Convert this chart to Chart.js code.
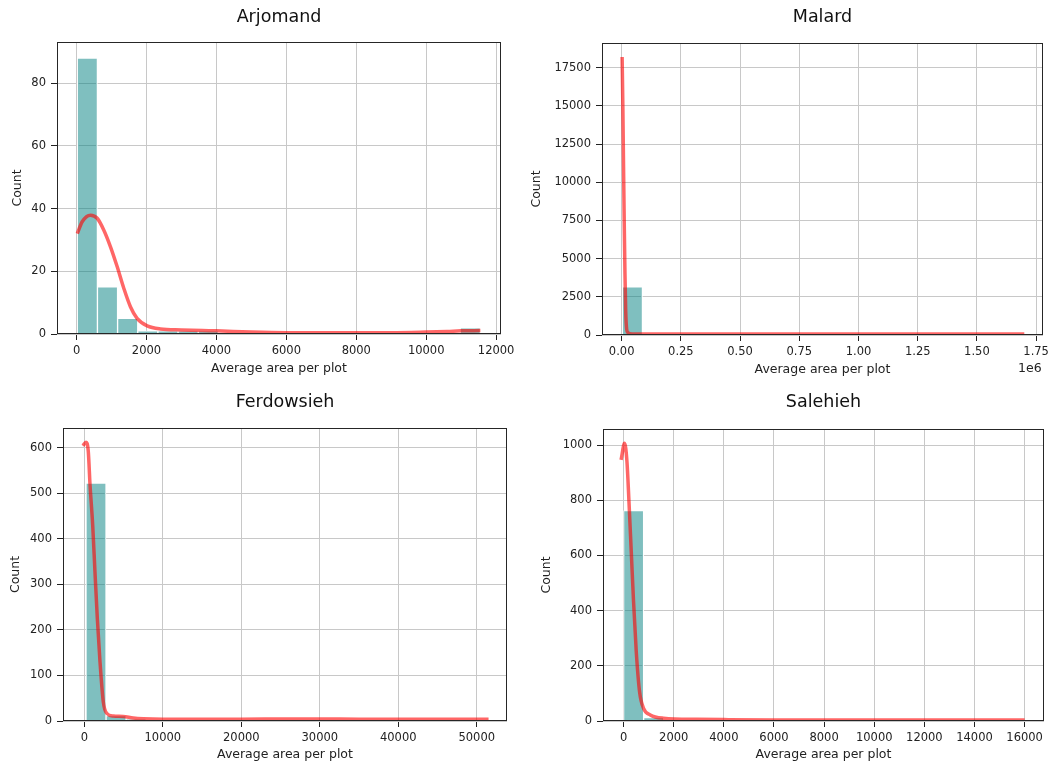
<!DOCTYPE html>
<html>
<head>
<meta charset="utf-8">
<script src="https://cdn.jsdelivr.net/npm/chart.js@4.4.1/dist/chart.umd.min.js"></script>
<style>
    body { margin: 0; background: #fff; }
    #wrap { position: relative; width: 1062px; height: 767px; overflow: hidden; background: #fff; }
    canvas { position: absolute; }
    #offsetText { position: absolute; left: 1018px; top: 360px; font: 12.5px 'DejaVu Sans'; color: #222; }
</style>
</head>
<body>
<div id="wrap">
    <canvas id="c1" width="531" height="385" style="left:0;top:0"></canvas>
    <canvas id="c2" width="542" height="385" style="left:520px;top:0"></canvas>
    <canvas id="c3" width="531" height="382" style="left:0;top:385px"></canvas>
    <canvas id="c4" width="542" height="382" style="left:520px;top:385px"></canvas>
    <div id="offsetText">1e6</div>
</div>
<script>
// Arjomand: 구간 시작/폭, 구간별 개수, KDE 곡선
const arjBinStart = 20, arjBinWidth = 576.5;
const arjCounts = [88, 15, 5, 1, 1, 1, 1, 0, 0, 0, 0, 0, 0, 0, 0, 0, 0, 0, 0, 2];
const arjKdeX = [20, 160, 400, 590, 780, 970, 1160, 1350, 1540, 1730, 2020, 2400, 3000, 3600, 4000, 5000, 6000, 7000, 8000, 9000, 10000, 10600, 11000, 11550];
const arjKdeY = [32, 35.8, 37.9, 36.9, 33.1, 27.8, 21.5, 14.6, 8.7, 5.0, 2.6, 1.6, 1.3, 1.1, 1.0, 0.6, 0.4, 0.4, 0.4, 0.4, 0.6, 0.8, 1.0, 1.1];
const arjXTicks = [0, 2000, 4000, 6000, 8000, 10000, 12000];
const arjYTicks = [0, 20, 40, 60, 80];

// Malard
const malBinStart = 3000, malBinWidth = 84850;
const malCounts = [3160, 3, 1, 0, 0, 0, 0, 0, 0, 0, 0, 0, 0, 0, 0, 0, 0, 0, 0, 1];
const malKdeX = [2000, 5000, 8000, 11000, 14000, 17000, 21000, 26000, 35000, 60000, 200000, 600000, 1000000, 1400000, 1700000];
const malKdeY = [18200, 15000, 11000, 7200, 4000, 1600, 400, 160, 90, 70, 60, 60, 60, 60, 60];
const malXTicks = [0, 250000, 500000, 750000, 1000000, 1250000, 1500000, 1750000];
const malYTicks = [0, 2500, 5000, 7500, 10000, 12500, 15000, 17500];

// Ferdowsieh
const ferBinStart = 216, ferBinWidth = 2556;
const ferCounts = [522, 12, 4, 1, 0, 0, 0, 0, 0, 1, 1, 0, 0, 0, 0, 0, 0, 0, 0, 1];
const ferKdeX = [-170, 220, 510, 730, 1070, 1360, 1660, 2000, 2420, 2850, 3700, 4950, 6240, 7520, 10000, 15000, 20000, 26000, 30000, 35000, 40000, 45000, 51500];
const ferKdeY = [604, 612, 591, 518, 430, 327, 225, 130, 42, 17, 11, 10, 6.6, 5, 4, 4, 4, 4.5, 4.5, 4, 4, 4, 4];
const ferXTicks = [0, 10000, 20000, 30000, 40000, 50000];
const ferYTicks = [0, 100, 200, 300, 400, 500, 600];

// Salehieh
const salBinStart = 0, salBinWidth = 800;
const salCounts = [762, 12, 3, 1, 1, 0, 0, 0, 0, 0, 0, 0, 0, 0, 0, 0, 0, 0, 0, 1];
const salKdeX = [-100, 40, 135, 215, 307, 398, 506, 638, 797, 1064, 1594, 2924, 4000, 6000, 8000, 10000, 12000, 14000, 16000];
const salKdeY = [946, 1006, 940, 795, 613, 432, 251, 106, 46, 22, 10, 6, 5, 4, 4, 4, 4, 4, 4];
const salXTicks = [0, 2000, 4000, 6000, 8000, 10000, 12000, 14000, 16000];
const salYTicks = [0, 200, 400, 600, 800, 1000];

Chart.defaults.font.family = "'DejaVu Sans', sans-serif";
Chart.defaults.color = '#222';

// 축 상자 테두리 (matplotlib spine)
const frameBox = {
    id: 'frameBox',
    afterDatasetsDraw(chart) {
        const a = chart.chartArea;
        const ctx = chart.ctx;
        ctx.save();
        ctx.strokeStyle = '#262626';
        ctx.lineWidth = 1;
        ctx.strokeRect(a.left + 0.5, a.top + 0.5, a.right - a.left - 1, a.bottom - a.top - 1);
        ctx.restore();
    }
};

// 히스토그램 + KDE 차트 생성
function createHistChart(id, d) {
    const canvas = document.getElementById(id);
    const barData = d.counts.map((c, i) => ({ x: d.binStart + d.binWidth * (i + 0.5), y: c }));
    const lineData = d.kdeX.map((x, i) => ({ x: x, y: d.kdeY[i] }));

    return new Chart(canvas.getContext('2d'), {
        type: 'bar',
        data: {
            datasets: [
                {
                    type: 'line',
                    data: lineData,
                    borderColor: 'rgba(255,0,0,0.6)',
                    borderWidth: 3.5,
                    pointRadius: 0,
                    cubicInterpolationMode: 'monotone',
                    fill: false,
                    order: 0
                },
                {
                    type: 'bar',
                    data: barData,
                    backgroundColor: 'rgba(0,128,128,0.5)',
                    borderColor: '#ffffff',
                    borderWidth: 1,
                    barPercentage: 1,
                    categoryPercentage: 1,
                    grouped: false,
                    order: 1
                }
            ]
        },
        options: {
            responsive: false,
            animation: false,
            layout: { padding: { left: 0, top: 0, right: d.padRight, bottom: 0 } },
            plugins: {
                legend: { display: false },
                tooltip: { enabled: false },
                title: {
                    display: true,
                    text: d.title,
                    fullSize: false,
                    color: '#111',
                    font: { size: 17.5, weight: 'normal' },
                    padding: { top: 7, bottom: d.titlePadBottom }
                }
            },
            scales: {
                x: {
                    type: 'linear',
                    min: d.xMin,
                    max: d.xMax,
                    offset: false,
                    grid: { offset: false, color: '#c8c8c8', tickColor: '#222', tickLength: 6 },
                    border: { display: false },
                    ticks: {
                        padding: 4,
                        maxRotation: 0,
                        autoSkip: false,
                        font: { size: 11.5 },
                        callback: d.xFormat
                    },
                    title: {
                        display: true,
                        text: 'Average area per plot',
                        font: { size: 12.5 },
                        padding: { top: 0, bottom: d.xTitlePad }
                    },
                    afterBuildTicks: s => { s.ticks = d.xTicks.map(v => ({ value: v })); },
                    afterFit: s => { s.height = d.xHeight; }
                },
                y: {
                    type: 'linear',
                    min: 0,
                    max: d.yMax,
                    grid: { color: '#c8c8c8', tickColor: '#222', tickLength: 6 },
                    border: { display: false },
                    ticks: {
                        padding: 5,
                        autoSkip: false,
                        font: { size: 11.5 },
                        callback: v => String(v)
                    },
                    title: {
                        display: true,
                        text: 'Count',
                        font: { size: 12.5 },
                        padding: { top: d.yTitlePad, bottom: 0 }
                    },
                    afterBuildTicks: s => { s.ticks = d.yTicks.map(v => ({ value: v })); },
                    afterFit: s => { s.width = d.yWidth; }
                }
            }
        },
        plugins: [frameBox]
    });
}

const plain = v => String(v);

createHistChart('c1', {
    title: 'Arjomand', binStart: arjBinStart, binWidth: arjBinWidth, counts: arjCounts,
    kdeX: arjKdeX, kdeY: arjKdeY, xTicks: arjXTicks, yTicks: arjYTicks,
    xMin: -560, xMax: 12140, yMax: 93.1, xFormat: plain,
    yWidth: 57, xHeight: 51, padRight: 30, titlePadBottom: 14, xTitlePad: 8.5, yTitlePad: 10.5
});

createHistChart('c2', {
    title: 'Malard', binStart: malBinStart, binWidth: malBinWidth, counts: malCounts,
    kdeX: malKdeX, kdeY: malKdeY, xTicks: malXTicks, yTicks: malYTicks,
    xMin: -83000, xMax: 1779000, yMax: 19110, xFormat: v => (v / 1e6).toFixed(2),
    yWidth: 82, xHeight: 50, padRight: 19, titlePadBottom: 15, xTitlePad: 7.5, yTitlePad: 9.5
});

createHistChart('c3', {
    title: 'Ferdowsieh', binStart: ferBinStart, binWidth: ferBinWidth, counts: ferCounts,
    kdeX: ferKdeX, kdeY: ferKdeY, xTicks: ferXTicks, yTicks: ferYTicks,
    xMin: -2713, xMax: 53850, yMax: 643, xFormat: plain,
    yWidth: 63, xHeight: 46, padRight: 24, titlePadBottom: 15, xTitlePad: 4.5, yTitlePad: 8.5
});

createHistChart('c4', {
    title: 'Salehieh', binStart: salBinStart, binWidth: salBinWidth, counts: salCounts,
    kdeX: salKdeX, kdeY: salKdeY, xTicks: salXTicks, yTicks: salYTicks,
    xMin: -821, xMax: 16773, yMax: 1058, xFormat: plain,
    yWidth: 83, xHeight: 46, padRight: 18, titlePadBottom: 16, xTitlePad: 4.5, yTitlePad: 19.5
});
</script>
</body>
</html>
